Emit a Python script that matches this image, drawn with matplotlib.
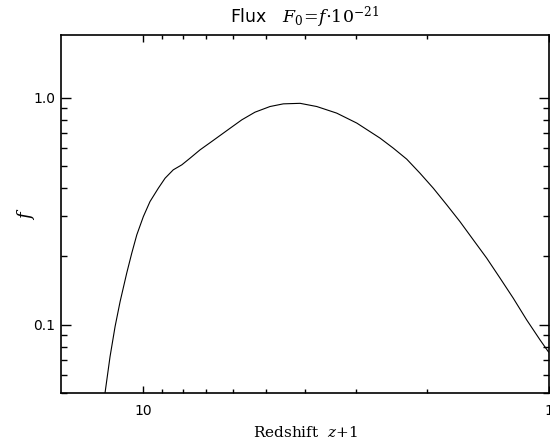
import numpy as np
import matplotlib
matplotlib.use('Agg')
import matplotlib.pyplot as plt
from matplotlib.ticker import LogLocator, NullFormatter, FixedLocator, FixedFormatter

# curve (x = z+1, y = f)
zp1 = [12.47, 12.43, 12.08, 11.74, 11.41, 10.99, 10.68, 10.38, 10.0, 9.63, 9.185,
       8.84, 8.44, 8.04, 7.67, 7.25, 6.79, 6.11, 5.72, 5.31, 4.875, 4.52, 4.11,
       3.74, 3.34, 2.98, 2.612, 2.423, 2.245, 2.083, 1.931, 1.789, 1.660, 1.539,
       1.426, 1.322, 1.227, 1.137, 1.054, 1.006, 1.0]
flux = [0.048, 0.0501, 0.0725, 0.0983, 0.1266, 0.1689, 0.2067, 0.2488, 0.2995,
        0.3487, 0.3993, 0.4418, 0.4808, 0.5058, 0.5414, 0.5887, 0.640, 0.7333,
        0.798, 0.862, 0.913, 0.938, 0.943, 0.913, 0.854, 0.772, 0.663, 0.599,
        0.5358, 0.4650, 0.3993, 0.3373, 0.2847, 0.2366, 0.1965, 0.1605, 0.1311,
        0.1052, 0.0859, 0.0763, 0.0755]

xticks = [10, 1]
xtick_labels = ['10', '1']
yticks = [0.1, 1.0]
ytick_labels = ['0.1', '1.0']

plt.rcParams['font.family'] = 'DejaVu Sans'
plt.rcParams['mathtext.fontset'] = 'dejavuserif'

fig = plt.figure(figsize=(5.5, 4.43), dpi=100)
ax = fig.add_axes([0.110, 0.1122, 0.8887, 0.8095])

ax.plot(zp1, flux, color='black', lw=0.8)

ax.set_xscale('log')
ax.set_yscale('log')
ax.set_xlim(16.0, 1.0)
ax.set_ylim(0.05, 1.89)

ax.xaxis.set_major_locator(FixedLocator(xticks))
ax.xaxis.set_major_formatter(FixedFormatter(xtick_labels))
ax.xaxis.set_minor_locator(LogLocator(base=10, subs=np.arange(2, 10)))
ax.xaxis.set_minor_formatter(NullFormatter())
ax.yaxis.set_major_locator(FixedLocator(yticks))
ax.yaxis.set_major_formatter(FixedFormatter(ytick_labels))
ax.yaxis.set_minor_locator(LogLocator(base=10, subs=np.arange(2, 10)))
ax.yaxis.set_minor_formatter(NullFormatter())

ax.tick_params(which='both', direction='in', top=True, right=True,
               labelsize=10, width=1.0, color='black')
ax.tick_params(axis='x', which='major', length=5, pad=8)
ax.tick_params(axis='x', which='minor', length=3)
ax.tick_params(axis='y', which='major', length=7.2, pad=4)
ax.tick_params(axis='y', which='minor', length=4.3)

for s in ax.spines.values():
    s.set_linewidth(1.2)

ax.set_title(r'Flux   $F_0\!=\!f{\cdot}10^{-21}$', fontsize=12.5, pad=8)
ax.set_xlabel(r'Redshift  $z$+1', fontfamily='DejaVu Serif', fontsize=11, labelpad=5)
ax.set_ylabel(r'$f$', fontsize=13)
ax.yaxis.set_label_coords(-0.048, 0.5)

fig.savefig('out.png', dpi=100)
